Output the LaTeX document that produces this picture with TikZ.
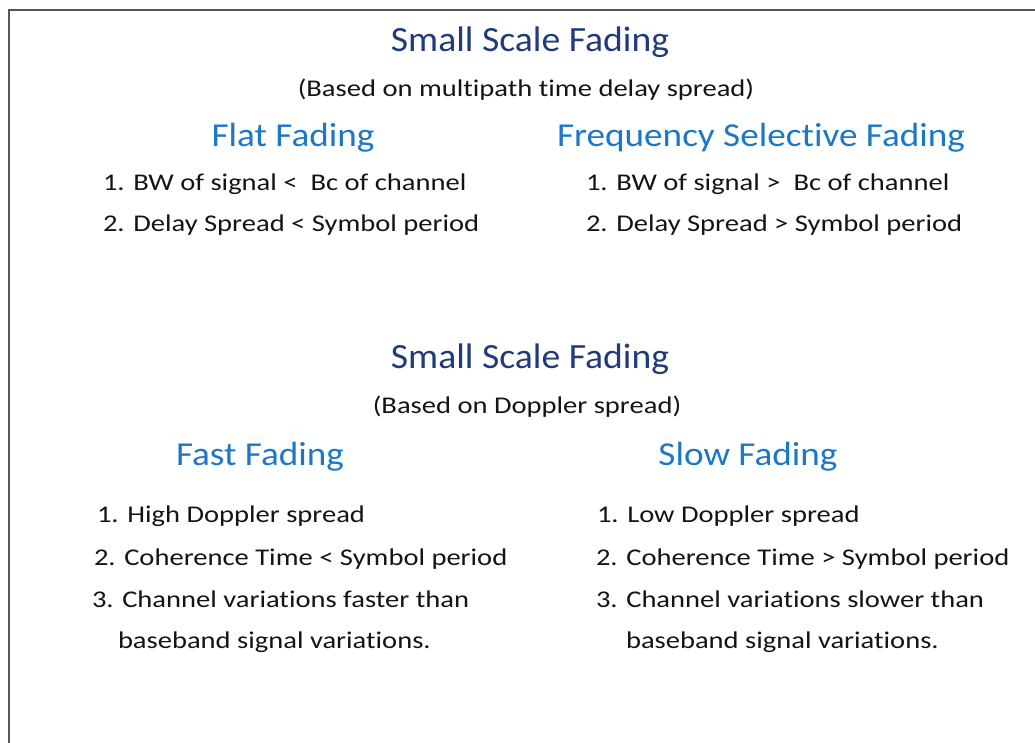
\documentclass[tikz,border=0pt]{standalone}
\usepackage{fontspec}
\setmainfont{Carlito}[Ligatures=NoCommon]
% Carlito set a little wider than its natural width, per text level
\newfontfamily\titlefont{Carlito}[FakeStretch=1.06,Ligatures=NoCommon]
\newfontfamily\headfont{Carlito}[FakeStretch=1.11,Ligatures=NoCommon]
\newfontfamily\bodyfont{Carlito}[FakeStretch=1.19,Ligatures=NoCommon]
\definecolor{titleblue}{HTML}{1F3B7A}
\definecolor{headblue}{HTML}{1C78C6}
\definecolor{bodytext}{HTML}{141414}
\definecolor{framegray}{HTML}{555555}
\begin{document}
\begin{tikzpicture}[x=1pt,y=-1pt,
  every node/.style={inner sep=0pt,outer sep=0pt},
  title/.style={anchor=base,text=titleblue,font=\titlefont\fontsize{35.5}{40}\selectfont},
  subtitle/.style={anchor=base,text=bodytext,font=\bodyfont\fontsize{24}{28}\selectfont},
  head/.style={anchor=base,text=headblue,font=\headfont\fontsize{33.5}{38}\selectfont},
  item/.style={anchor=base west,text=bodytext,font=\bodyfont\fontsize{24}{28}\selectfont}]
\useasboundingbox (0,0) rectangle (1035,742);
% open frame along the top and left edges
\draw[framegray,line width=2pt] (9,745) -- (9,10) -- (1040,10);

% delay-spread classification
\node[title] (t1) at (530,51) {Small Scale Fading};
\node[subtitle] (s1) at (526,96) {(Based on multipath time delay spread)};
\node[head] (flat) at (293,146) {Flat Fading};
\node[head] (fsel) at (761,146) {Frequency Selective Fading};
\node[item] (f1) at (103,190) {1. BW of signal <\ \ Bc of channel};
\node[item] (f2) at (103,231) {2. Delay Spread < Symbol period};
\node[item] (g1) at (586,190) {1. BW of signal >\ \ Bc of channel};
\node[item] (g2) at (586,231) {2. Delay Spread > Symbol period};

% Doppler-spread classification
\node[title] (t2) at (530,368) {Small Scale Fading};
\node[subtitle] (s2) at (527,413) {(Based on Doppler spread)};
\node[head] (fast) at (260,465) {Fast Fading};
\node[head] (slow) at (748,465) {Slow Fading};
\node[item] (a1) at (97,522) {1. High Doppler spread};
\node[item] (a2) at (94,565) {2. Coherence Time < Symbol period};
\node[item] (a3) at (92,607) {3. Channel variations faster than};
\node[item] (a4) at (118,648) {baseband signal variations.};
\node[item] (b1) at (597,522) {1. Low Doppler spread};
\node[item] (b2) at (596,565) {2. Coherence Time > Symbol period};
\node[item] (b3) at (596,607) {3. Channel variations slower than};
\node[item] (b4) at (626,648) {baseband signal variations.};
\end{tikzpicture}
\end{document}
